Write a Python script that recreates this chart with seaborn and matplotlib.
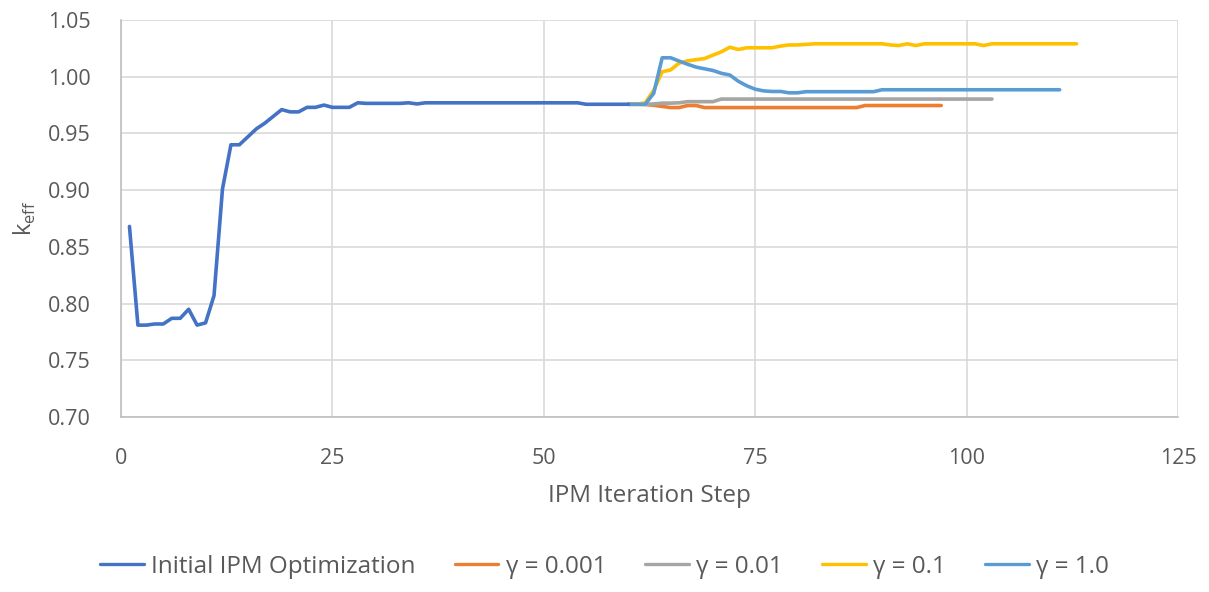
import numpy as np
import pandas as pd
import matplotlib
matplotlib.use("Agg")
import matplotlib.pyplot as plt
import seaborn as sns

# Initial IPM optimization, steps 1..60
initial_steps = list(range(1, 61))
initial_keff = [
    0.868, 0.781, 0.781, 0.782, 0.782, 0.787, 0.787, 0.795, 0.781, 0.783,
    0.807, 0.901, 0.940, 0.940, 0.947, 0.954, 0.959, 0.965, 0.971, 0.969,
    0.969, 0.973, 0.973, 0.975, 0.973, 0.973, 0.973, 0.977, 0.9765, 0.9765,
    0.9765, 0.9765, 0.9765, 0.977, 0.976, 0.977, 0.977, 0.977, 0.977, 0.977,
    0.977, 0.977, 0.977, 0.977, 0.977, 0.977, 0.977, 0.977, 0.977, 0.977,
    0.977, 0.977, 0.977, 0.977, 0.9757, 0.9757, 0.9757, 0.9757, 0.9757, 0.9757,
]

# gamma = 0.001, steps 60..97
g0001_steps = list(range(60, 98))
g0001_keff = [
    0.9757, 0.9757, 0.9755, 0.9748, 0.9738, 0.9728, 0.9728, 0.9746, 0.9746, 0.9728,
    0.9728, 0.9728, 0.9728, 0.9728, 0.9728, 0.9728, 0.9728, 0.9728, 0.9728, 0.9728,
    0.9728, 0.9728, 0.9728, 0.9728, 0.9728, 0.9728, 0.9728, 0.9728, 0.9746, 0.9746,
    0.9746, 0.9746, 0.9746, 0.9746, 0.9746, 0.9746, 0.9746, 0.9746,
]

# gamma = 0.01, steps 60..103
g001_steps = list(range(60, 104))
g001_keff = [
    0.9757, 0.9757, 0.9757, 0.9760, 0.9767, 0.9767, 0.9770, 0.9780, 0.9780, 0.9780,
    0.9780, 0.9803, 0.9803, 0.9803, 0.9803, 0.9803, 0.9803, 0.9803, 0.9803, 0.9803,
    0.9803, 0.9803, 0.9803, 0.9803, 0.9803, 0.9803, 0.9803, 0.9803, 0.9803, 0.9803,
    0.9803, 0.9803, 0.9803, 0.9803, 0.9803, 0.9803, 0.9803, 0.9803, 0.9803, 0.9803,
    0.9803, 0.9803, 0.9803, 0.9803,
]

# gamma = 0.1, steps 60..113
g01_steps = list(range(60, 114))
g01_keff = [
    0.9757, 0.9757, 0.9770, 0.9880, 1.0044, 1.0060, 1.0120, 1.0140, 1.0150, 1.0160,
    1.0190, 1.0220, 1.0260, 1.0240, 1.0255, 1.0255, 1.0255, 1.0255, 1.0270, 1.0280,
    1.0280, 1.0285, 1.0290, 1.0290, 1.0290, 1.0290, 1.0290, 1.0290, 1.0290, 1.0290,
    1.0290, 1.0280, 1.0275, 1.0290, 1.0275, 1.0290, 1.0290, 1.0290, 1.0290, 1.0290,
    1.0290, 1.0290, 1.0275, 1.0290, 1.0290, 1.0290, 1.0290, 1.0290, 1.0290, 1.0290,
    1.0290, 1.0290, 1.0290, 1.0290,
]

# gamma = 1.0, steps 60..111
g1_steps = list(range(60, 112))
g1_keff = [
    0.9757, 0.9757, 0.9757, 0.9854, 1.0167, 1.0167, 1.0138, 1.0110, 1.0085, 1.0070,
    1.0055, 1.0030, 1.0015, 0.9960, 0.9920, 0.9890, 0.9875, 0.9870, 0.9870, 0.9858,
    0.9858, 0.9868, 0.9868, 0.9868, 0.9868, 0.9868, 0.9868, 0.9868, 0.9868, 0.9868,
    0.9885, 0.9885, 0.9885, 0.9885, 0.9885, 0.9885, 0.9885, 0.9885, 0.9885, 0.9885,
    0.9885, 0.9885, 0.9885, 0.9885, 0.9885, 0.9885, 0.9885, 0.9885, 0.9885, 0.9885,
    0.9885, 0.9885,
]

series_names = ["Initial IPM Optimization", "γ = 0.001", "γ = 0.01", "γ = 0.1", "γ = 1.0"]
series_colors = ["#4472C4", "#ED7D31", "#A5A5A5", "#FFC000", "#5B9BD5"]

x_ticks = [0, 25, 50, 75, 100, 125]
y_ticks = [0.70, 0.75, 0.80, 0.85, 0.90, 0.95, 1.00, 1.05]

frames = []
for name, xs, ys in zip(
    series_names,
    [initial_steps, g0001_steps, g001_steps, g01_steps, g1_steps],
    [initial_keff, g0001_keff, g001_keff, g01_keff, g1_keff],
):
    frames.append(pd.DataFrame({"step": xs, "keff": ys, "series": name}))
df = pd.concat(frames, ignore_index=True)

sns.set_theme(style="white")
plt.rcParams["font.family"] = ["Open Sans", "DejaVu Sans"]

text_color = "#595959"

fig = plt.figure(figsize=(12.09, 5.92), dpi=100)
ax = fig.add_axes([121 / 1209, 1 - 417 / 592, (1178 - 121) / 1209, (417 - 20) / 592])

# draw the initial run last so it sits on top where curves overlap
order = ["γ = 0.001", "γ = 0.01", "γ = 0.1", "γ = 1.0", "Initial IPM Optimization"]
palette = dict(zip(series_names, series_colors))
for name in order:
    sub = df[df["series"] == name]
    sns.lineplot(data=sub, x="step", y="keff", color=palette[name], lw=2.6,
                 ax=ax, legend=False)

ax.set_xlim(0, 125)
ax.set_ylim(0.70, 1.05)
ax.set_xticks(x_ticks)
ax.set_yticks(y_ticks)
ax.set_xticklabels([str(t) for t in x_ticks])
ax.set_yticklabels([f"{t:.2f}" for t in y_ticks])
ax.grid(True, color="#D9D9D9", lw=1.2)
ax.set_axisbelow(True)
for side in ["top", "right"]:
    ax.spines[side].set_visible(False)
for side in ["left", "bottom"]:
    ax.spines[side].set_color("#BFBFBF")
    ax.spines[side].set_linewidth(1.2)
ax.tick_params(axis="both", length=0, labelsize=15.5, colors=text_color)
ax.tick_params(axis="y", pad=22)
ax.tick_params(axis="x", pad=22)

ax.set_xlabel("IPM Iteration Step", fontsize=17.5, color=text_color, labelpad=11)
ax.set_ylabel("k$_\\mathregular{eff}$", fontsize=17, color=text_color, labelpad=7)

leg_handles = [plt.Line2D([], [], color=c, lw=2.4) for c in series_colors]
fig.legend(leg_handles, series_names, loc="center", bbox_to_anchor=(0.5, 1 - 567 / 592),
           ncol=5, frameon=False, fontsize=17.5, handlelength=1.8, handletextpad=0.3,
           columnspacing=1.6, labelcolor=text_color)

fig.savefig("out.png", dpi=100)
